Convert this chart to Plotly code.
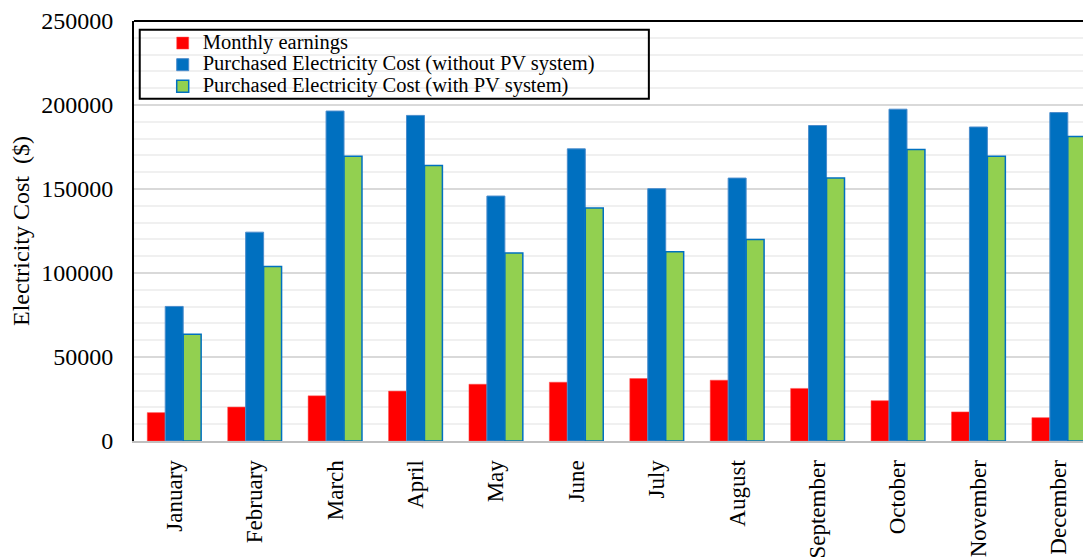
import plotly.graph_objects as go

months = ["January", "February", "March", "April", "May", "June", "July",
          "August", "September", "October", "November", "December"]
monthly_earnings = [16900, 20200, 26900, 29700, 33800, 35000, 37200, 36200, 31300, 24000, 17300, 13900]
cost_without_pv = [80100, 124300, 196400, 193800, 145800, 173900, 150200, 156500, 187800, 197500, 186900, 195500]
cost_with_pv = [63500, 103800, 169500, 164000, 111900, 138700, 112700, 120000, 156500, 173500, 169500, 181300]
series_names = ["Monthly earnings",
                "Purchased Electricity Cost (without PV system)",
                "Purchased Electricity Cost (with PV system)"]

FONT = "Liberation Serif"


def legend_label(s):
    return '<span style="font-size:20.5px">' + s + '</span>'


fig = go.Figure()
fig.add_trace(go.Bar(x=months, y=monthly_earnings, name=legend_label(series_names[0]),
                     marker=dict(color="#FF0000", line=dict(color="#FF5050", width=0.5))))
fig.add_trace(go.Bar(x=months, y=cost_without_pv, name=legend_label(series_names[1]),
                     marker=dict(color="#0070C0", line=dict(color="#4a8ccc", width=1))))
fig.add_trace(go.Bar(x=months, y=cost_with_pv, name=legend_label(series_names[2]),
                     marker=dict(color="#92D050", line=dict(color="#0070C0", width=1.5))))

fig.update_layout(
    width=1083, height=551,
    margin=dict(l=126, r=0, t=11, b=118),
    paper_bgcolor="white", plot_bgcolor="white",
    barmode="group", bargap=0.33, bargroupgap=0,
    font=dict(family=FONT, size=20, color="black"),
    showlegend=True,
    legend=dict(x=0.03, y=0.985, xanchor="left", yanchor="top",
                bgcolor="rgba(0,0,0,0)", borderwidth=0,
                font=dict(family=FONT, size=14.3, color="black"),
                tracegroupgap=0),
    shapes=[
        dict(type="rect", xref="paper", yref="paper", x0=0.006, x1=0.538, y0=0.815, y1=0.979,
             line=dict(color="black", width=2), fillcolor="rgba(0,0,0,0)", layer="above"),
        dict(type="line", xref="paper", yref="paper", x0=0, x1=1, y0=1, y1=1,
             line=dict(color="black", width=2), layer="above"),
    ],
)

fig.update_xaxes(
    type="category", range=[-0.5, 11.4],
    tickangle=-90, tickfont=dict(family=FONT, size=23, color="black"),
    showline=True, linecolor="#bfbfbf", linewidth=2,
    showgrid=False, ticks="", ticklabelstandoff=8,
)
fig.update_yaxes(
    range=[0, 250000], dtick=50000, tickformat="d",
    tickfont=dict(family=FONT, size=24, color="black"),
    ticklabeloverflow="allow",
    showline=True, linecolor="black", linewidth=2,
    showgrid=True, gridcolor="#d9d9d9", gridwidth=2,
    minor=dict(dtick=10000, showgrid=True, gridcolor="#f0f0f0", gridwidth=2),
    zeroline=False, ticks="", ticklabelstandoff=14,
    title=dict(text="Electricity Cost  ($)", font=dict(family=FONT, size=24, color="black"), standoff=6),
)

fig.write_html("out.html")
